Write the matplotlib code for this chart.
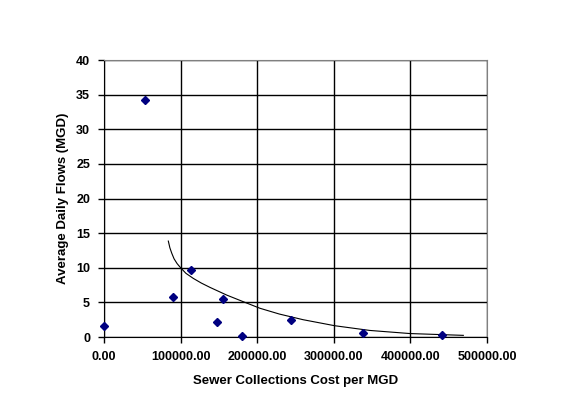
import matplotlib
matplotlib.use("Agg")
import matplotlib.pyplot as plt
from matplotlib.ticker import FuncFormatter

# scatter points: cost per MGD vs average daily flow
cost = [0, 53900, 89700, 113200, 147500, 155800, 180500, 244100, 338600, 441700]
flow = [1.55, 34.2, 5.73, 9.63, 2.12, 5.49, 0.1, 2.45, 0.53, 0.24]

# trend curve
trend_x = [84000, 86000, 88500, 91500, 95500, 100100, 107000, 116600, 127000,
           138400, 160200, 181900, 203700, 228900, 260000, 301300, 347000,
           399500, 469100]
trend_y = [13.86, 12.9, 12.1, 11.3, 10.6, 10.0, 9.2, 8.47, 7.8,
           7.17, 6.06, 5.10, 4.15, 3.32, 2.5, 1.63, 0.95,
           0.5, 0.24]

x_ticks = [0, 100000, 200000, 300000, 400000, 500000]
y_ticks = [0, 5, 10, 15, 20, 25, 30, 35, 40]

plt.rcParams['font.family'] = ['Liberation Sans', 'DejaVu Sans']
plt.rcParams['font.weight'] = 'bold'

fig = plt.figure(figsize=(5.77, 4.12), dpi=100)
ax = fig.add_axes([0.1802, 0.182, 0.6638, 0.672])

ax.plot(trend_x, trend_y, color='black', lw=0.8, zorder=2)
ax.plot(cost, flow, linestyle='none', marker='D', markersize=4.5,
        color='#000080', zorder=3, clip_on=False)

ax.set_xlim(0, 500000)
ax.set_ylim(0, 40)
ax.set_xticks(x_ticks)
ax.set_yticks(y_ticks)
ax.xaxis.set_major_formatter(FuncFormatter(lambda v, p: '%.2f' % v))

ax.grid(True, color='black', lw=1)
ax.set_axisbelow(True)

for s in ['top', 'right']:
    ax.spines[s].set_color('#808080')
for s in ['left', 'bottom']:
    ax.spines[s].set_color('black')

ax.tick_params(direction='out', length=4, width=1, labelsize=9, pad=6)
for lab in ax.get_xticklabels() + ax.get_yticklabels():
    lab.set_fontweight('bold')

ax.set_xlabel('Sewer Collections Cost per MGD', fontsize=9.5,
              fontweight='bold', labelpad=9)
ax.set_ylabel('Average Daily Flows (MGD)', fontsize=9.5,
              fontweight='bold', labelpad=5)

fig.savefig('out.png', dpi=100)
